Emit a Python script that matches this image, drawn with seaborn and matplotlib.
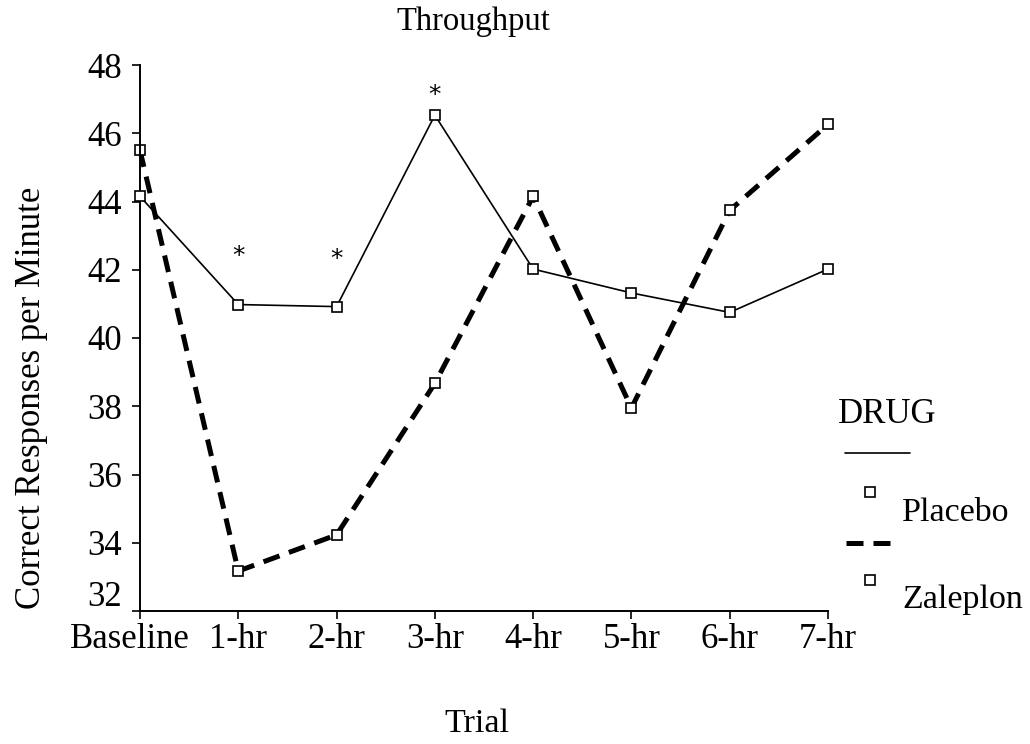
import numpy as np
import pandas as pd
import matplotlib
matplotlib.use("Agg")
import matplotlib.pyplot as plt
import matplotlib.transforms as mtransforms
from matplotlib.lines import Line2D
import seaborn as sns

trials = ["Baseline", "1-hr", "2-hr", "3-hr", "4-hr", "5-hr", "6-hr", "7-hr"]
placebo = [44.15, 40.98, 40.92, 46.53, 42.02, 41.32, 40.75, 42.02]
zaleplon = [45.5, 33.17, 34.23, 38.67, 44.15, 37.95, 43.74, 46.26]
sig_trials = ["1-hr", "2-hr", "3-hr"]
sig_y = [42.41, 42.32, 47.11]
y_ticks = [32, 34, 36, 38, 40, 42, 44, 46, 48]

sns.set_theme(style="ticks")
plt.rcParams["font.family"] = ["Liberation Serif", "DejaVu Serif"]
plt.rcParams["text.color"] = "black"
plt.rcParams["axes.labelcolor"] = "black"
plt.rcParams["xtick.color"] = "black"
plt.rcParams["ytick.color"] = "black"

pos = np.arange(len(trials))
df = pd.DataFrame({"pos": np.concatenate([pos, pos]),
                   "value": placebo + zaleplon,
                   "drug": ["Placebo"] * len(trials) + ["Zaleplon"] * len(trials)})

fig = plt.figure(figsize=(10.3, 7.44), dpi=100)
ax = fig.add_axes([140 / 1030, 1 - 611 / 744, (828 - 140) / 1030, (611 - 65) / 744])

sns.lineplot(data=df[df.drug == "Placebo"], x="pos", y="value", ax=ax,
             color="black", linewidth=1.2, marker="s", markersize=7.5,
             markerfacecolor="white", markeredgecolor="black", markeredgewidth=1.2,
             legend=False, zorder=3, clip_on=False)
sns.lineplot(data=df[df.drug == "Zaleplon"], x="pos", y="value", ax=ax,
             color="black", linewidth=3.6, dashes=(3.4, 2.0), marker="s", markersize=7.5,
             markerfacecolor="white", markeredgecolor="black", markeredgewidth=1.2,
             legend=False, zorder=2, clip_on=False)

for t, y in zip(sig_trials, sig_y):
    ax.text(trials.index(t), y, "*", ha="center", va="center", fontsize=18,
            family="DejaVu Sans", color="black")

ax.set_xlim(0, len(trials) - 1)
ax.set_ylim(32, 48)
ax.set_xticks(pos)
ax.set_xticklabels(trials)
ax.set_yticks(y_ticks)
ax.set_yticklabels([str(v) for v in y_ticks])
ax.tick_params(axis="both", labelsize=25, length=6, width=1.2, color="black",
               labelcolor="black", direction="out")
ax.tick_params(axis="y", pad=7)
ax.tick_params(axis="x", pad=3)
# reference nudges the first x label left and the lowest y label up
first = ax.get_xticklabels()[0]
first.set_transform(first.get_transform() + mtransforms.ScaledTranslation(-10 / 100, 0, fig.dpi_scale_trans))
low = ax.get_yticklabels()[0]
low.set_transform(low.get_transform() + mtransforms.ScaledTranslation(0, 18 / 100, fig.dpi_scale_trans))
ax.set_xlabel("")
ax.set_ylabel("")
for s in ["top", "right"]:
    ax.spines[s].set_visible(False)
for s in ["left", "bottom"]:
    ax.spines[s].set_color("black")
    ax.spines[s].set_linewidth(1.4)
ax.set_facecolor("white")
fig.patch.set_facecolor("white")

fig.text(473 / 1030, 1 - 22 / 744, "Throughput", ha="center", va="center", fontsize=23.5)
fig.text(477 / 1030, 1 - 724 / 744, "Trial", ha="center", va="center", fontsize=24.5)
fig.text(32 / 1030, 1 - 398 / 744, "Correct Responses per Minute", ha="center", va="center",
         rotation=90, fontsize=25)

# legend (decoration)
fig.text(838 / 1030, 1 - 415 / 744, "DRUG", ha="left", va="center", fontsize=25)
fig.add_artist(Line2D([845 / 1030, 910 / 1030], [1 - 453 / 744] * 2, color="black", lw=1.2,
                      transform=fig.transFigure))
fig.add_artist(Line2D([870 / 1030], [1 - 492 / 744], marker="s", markersize=7.5, color="black",
                      markerfacecolor="white", markeredgewidth=1.2, transform=fig.transFigure))
fig.text(902 / 1030, 1 - 513 / 744, "Placebo", ha="left", va="center", fontsize=24.5)
fig.add_artist(Line2D([846 / 1030, 898 / 1030], [1 - 543 / 744] * 2, color="black", lw=3.6,
                      dashes=(3.4, 2.0), transform=fig.transFigure))
fig.add_artist(Line2D([870 / 1030], [1 - 580 / 744], marker="s", markersize=7.5, color="black",
                      markerfacecolor="white", markeredgewidth=1.2, transform=fig.transFigure))
fig.text(902 / 1030, 1 - 600 / 744, "Zaleplon", ha="left", va="center", fontsize=24.5)

fig.savefig("out.png", dpi=100, facecolor="white")
